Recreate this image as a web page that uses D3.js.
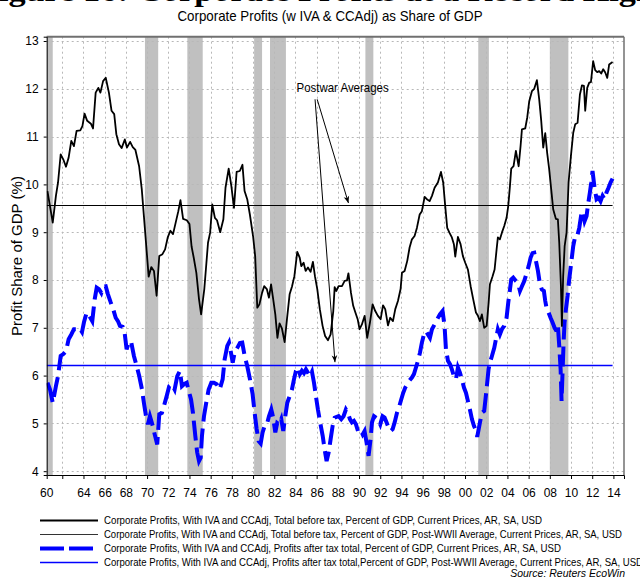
<!DOCTYPE html>
<html>
<head>
<meta charset="UTF-8" />
<script src="https://cdn.jsdelivr.net/npm/d3@7"></script>
<style>
*{margin:0; padding:0;}
body{background:#ffffff;}
.narrow{font-family:"Liberation Sans Narrow","Arial Narrow","Liberation Sans",Arial,sans-serif;}
</style>
</head>
<body>
<div id="chart"></div>
<script>
// before tax profits, % of GDP (year, value)
var beforeTax = [
[1960.6,9.86],[1961.1,9.20],[1961.4,9.76],[1961.6,10.04],[1961.85,10.63],[1962.1,10.52],[1962.35,10.37],[1962.6,10.56],
[1962.85,10.91],[1963.1,10.80],[1963.35,11.12],[1963.7,11.13],[1963.9,11.22],[1964.1,11.48],[1964.35,11.33],[1964.7,11.27],
[1964.9,11.17],[1965.15,11.92],[1965.4,12.02],[1965.6,11.92],[1965.85,12.16],[1966.1,12.23],[1966.4,11.92],[1966.65,11.54],
[1966.9,11.47],[1967.1,11.05],[1967.35,10.84],[1967.6,10.76],[1967.9,10.94],[1968.1,10.77],[1968.4,10.89],[1968.65,10.78],
[1968.9,10.72],[1969.25,10.38],[1969.5,9.90],[1969.7,9.34],[1969.9,8.78],[1970.15,8.07],[1970.4,8.27],[1970.65,8.19],
[1970.9,7.67],[1971.15,8.50],[1971.45,8.54],[1971.7,8.64],[1971.95,8.89],[1972.2,9.03],[1972.45,8.96],[1972.7,9.20],
[1972.95,9.44],[1973.15,9.67],[1973.4,9.28],[1973.75,9.25],[1974.0,9.17],[1974.2,8.70],[1974.4,8.47],[1974.65,8.15],
[1974.9,7.60],[1975.1,7.28],[1975.4,7.81],[1975.6,8.36],[1975.75,8.78],[1975.95,8.99],[1976.15,9.58],[1976.4,9.30],
[1976.6,9.25],[1976.9,9.00],[1977.2,9.27],[1977.4,9.93],[1977.7,10.33],[1977.95,9.97],[1978.2,9.51],[1978.45,10.26],
[1978.75,10.28],[1979.0,10.41],[1979.2,9.86],[1979.45,9.69],[1979.7,9.37],[1980.0,8.92],[1980.2,8.50],[1980.4,7.42],
[1980.6,7.49],[1980.85,7.73],[1981.05,7.87],[1981.3,7.81],[1981.5,7.63],[1981.7,7.91],[1981.9,7.60],[1982.1,7.28],
[1982.3,6.79],[1982.5,7.09],[1982.73,6.98],[1982.98,6.70],[1983.2,7.18],[1983.45,7.70],[1983.67,7.86],[1983.9,8.08],
[1984.17,8.59],[1984.4,8.47],[1984.55,8.29],[1984.77,8.36],[1984.96,8.19],[1985.18,8.26],[1985.43,8.17],[1985.65,8.38],
[1985.84,8.08],[1986.06,7.81],[1986.3,7.39],[1986.56,7.04],[1986.8,6.83],[1987.07,6.74],[1987.32,6.86],[1987.57,7.35],
[1987.7,7.85],[1987.85,7.77],[1988.07,7.87],[1988.39,7.87],[1988.64,7.98],[1988.86,7.99],[1989.0,8.14],[1989.24,7.73],
[1989.45,7.46],[1989.64,7.33],[1989.87,7.18],[1990.05,6.97],[1990.27,7.07],[1990.53,7.25],[1990.77,6.79],[1991.03,7.11],
[1991.28,7.49],[1991.53,7.35],[1991.78,7.25],[1992.04,7.18],[1992.26,7.47],[1992.47,7.39],[1992.73,7.05],[1992.94,7.21],
[1993.2,7.14],[1993.42,7.39],[1993.67,7.56],[1993.92,7.81],[1994.05,8.15],[1994.3,8.19],[1994.55,8.40],[1994.77,8.68],
[1994.99,8.85],[1995.24,8.92],[1995.46,9.09],[1995.72,9.37],[1995.93,9.44],[1996.19,9.74],[1996.4,9.69],[1996.66,9.65],
[1996.88,9.76],[1997.13,9.93],[1997.44,10.04],[1997.73,10.26],[1997.94,10.04],[1998.13,9.55],[1998.32,9.09],[1998.55,8.98],
[1998.76,8.89],[1998.95,8.75],[1999.08,8.49],[1999.33,8.90],[1999.58,8.75],[1999.8,8.50],[2000.02,8.36],[2000.27,8.22],
[2000.53,7.87],[2000.77,7.60],[2001.03,7.32],[2001.22,7.25],[2001.41,7.14],[2001.59,7.28],[2001.81,7.00],[2002.04,7.04],
[2002.23,7.53],[2002.35,7.91],[2002.6,8.08],[2002.79,8.22],[2002.98,8.64],[2003.1,8.89],[2003.29,8.85],[2003.48,8.99],
[2003.7,9.13],[2003.92,9.30],[2004.08,9.55],[2004.24,9.97],[2004.36,10.33],[2004.58,10.38],[2004.8,10.70],[2005.06,10.38],
[2005.24,10.80],[2005.37,11.15],[2005.68,11.17],[2005.87,11.40],[2006.06,11.74],[2006.31,11.95],[2006.53,12.00],[2006.78,12.18],
[2007.0,11.78],[2007.19,11.33],[2007.38,10.77],[2007.57,11.07],[2007.75,10.66],[2007.94,10.32],[2008.13,9.90],[2008.32,9.48],
[2008.57,9.28],[2008.76,9.27],[2008.89,8.78],[2009.05,7.87],[2009.14,7.04],[2009.26,8.08],[2009.4,8.71],[2009.58,8.99],
[2009.77,10.04],[2009.99,10.59],[2010.21,11.08],[2010.4,11.26],[2010.62,11.29],[2010.84,11.88],[2011.03,12.07],[2011.22,12.06],
[2011.34,11.54],[2011.53,12.02],[2011.72,12.13],[2011.88,12.14],[2012.09,12.58],[2012.28,12.39],[2012.47,12.35],[2012.66,12.37],
[2012.85,12.32],[2013.04,12.41],[2013.23,12.34],[2013.42,12.23],[2013.6,12.51],[2013.92,12.56]
];
// after tax profits, % of GDP (year, value)
var afterTax = [
[1960.6,5.85],[1960.85,5.70],[1961.1,5.43],[1961.4,5.78],[1961.6,5.99],[1961.85,6.41],[1962.1,6.45],[1962.35,6.51],
[1962.6,6.76],[1962.85,6.86],[1963.1,6.97],[1963.35,6.97],[1963.6,7.00],[1963.86,6.91],[1964.05,7.12],[1964.3,7.32],
[1964.55,7.25],[1964.83,7.14],[1965.06,7.60],[1965.25,7.84],[1965.46,7.81],[1965.68,7.73],[1965.87,7.86],[1966.1,7.87],
[1966.31,7.70],[1966.57,7.53],[1966.8,7.39],[1967.04,7.21],[1967.25,7.14],[1967.44,7.04],[1967.7,7.02],[1967.88,6.90],
[1968.07,6.55],[1968.32,6.72],[1968.51,6.69],[1968.76,6.41],[1969.02,6.20],[1969.26,5.99],[1969.52,5.71],[1969.7,5.43],
[1969.9,5.15],[1970.08,4.98],[1970.27,5.15],[1970.53,4.95],[1970.72,4.77],[1970.96,4.56],[1971.15,5.19],[1971.4,5.22],
[1971.59,5.36],[1971.85,5.57],[1972.09,5.78],[1972.35,5.82],[1972.6,5.71],[1972.85,5.99],[1973.1,6.10],[1973.29,5.78],
[1973.48,5.82],[1973.74,5.85],[1973.98,5.64],[1974.15,5.50],[1974.33,5.22],[1974.55,4.74],[1974.73,4.39],[1974.9,4.21],
[1975.06,4.28],[1975.18,4.74],[1975.37,5.15],[1975.58,5.43],[1975.81,5.71],[1976.06,5.85],[1976.31,5.85],[1976.57,5.82],
[1976.85,5.71],[1977.13,5.92],[1977.32,6.34],[1977.57,6.62],[1977.73,6.69],[1977.89,6.51],[1978.08,6.27],[1978.26,6.48],
[1978.51,6.58],[1978.76,6.68],[1978.98,6.69],[1979.21,6.41],[1979.45,6.20],[1979.71,5.92],[1979.96,5.61],[1980.15,5.22],
[1980.34,4.88],[1980.53,4.63],[1980.72,4.58],[1980.9,4.81],[1981.1,4.95],[1981.31,4.98],[1981.5,5.15],[1981.72,5.29],
[1981.9,5.12],[1982.1,4.81],[1982.28,5.01],[1982.47,4.98],[1982.66,5.09],[1982.85,4.84],[1983.04,5.15],[1983.23,5.43],
[1983.45,5.57],[1983.67,5.71],[1983.86,5.92],[1984.05,6.10],[1984.24,6.17],[1984.42,6.03],[1984.61,6.10],[1984.8,6.05],
[1984.99,6.13],[1985.18,6.06],[1985.37,5.99],[1985.56,6.08],[1985.75,5.85],[1985.93,5.57],[1986.12,5.29],[1986.34,5.01],
[1986.57,4.74],[1986.75,4.46],[1986.94,4.21],[1987.13,4.39],[1987.32,4.67],[1987.51,4.95],[1987.7,5.12],[1988.07,5.15],
[1988.32,5.09],[1988.54,5.15],[1988.76,5.29],[1988.95,5.22],[1989.14,5.09],[1989.33,5.02],[1989.52,5.05],[1989.71,4.98],
[1989.9,4.84],[1990.12,4.88],[1990.34,4.77],[1990.52,4.84],[1990.71,4.60],[1990.9,4.32],[1991.09,4.67],[1991.22,5.02],
[1991.41,5.15],[1991.59,5.12],[1991.78,5.09],[1992.0,4.98],[1992.22,5.15],[1992.41,5.12],[1992.6,5.02],[1992.79,4.91],
[1992.98,4.84],[1993.17,4.88],[1993.36,5.02],[1993.58,5.22],[1993.8,5.36],[1993.98,5.50],[1994.17,5.64],[1994.36,5.75],
[1994.55,5.82],[1994.74,5.89],[1994.99,5.96],[1995.18,6.03],[1995.37,6.17],[1995.56,6.31],[1995.75,6.48],[1995.93,6.69],
[1996.12,6.86],[1996.31,6.93],[1996.5,6.86],[1996.69,6.79],[1996.88,6.97],[1997.13,7.07],[1997.38,7.18],[1997.63,7.28],
[1997.88,7.35],[1998.07,7.04],[1998.2,6.55],[1998.39,6.31],[1998.58,6.24],[1998.76,6.13],[1998.95,5.99],[1999.14,5.92],
[1999.33,6.17],[1999.52,6.06],[1999.71,5.92],[1999.9,5.75],[2000.09,5.64],[2000.27,5.47],[2000.46,5.29],[2000.65,5.09],
[2000.84,4.95],[2001.03,4.85],[2001.15,4.72],[2001.41,5.02],[2001.59,5.22],[2001.81,5.26],[2002.03,5.71],[2002.22,6.13],
[2002.35,6.27],[2002.54,6.41],[2002.76,6.58],[2002.98,6.83],[2003.1,6.97],[2003.29,6.86],[2003.48,6.97],[2003.7,7.04],
[2003.92,7.21],[2004.08,7.53],[2004.24,7.80],[2004.36,8.01],[2004.55,8.05],[2004.8,7.98],[2004.99,7.94],[2005.18,7.77],
[2005.37,7.87],[2005.59,7.98],[2005.81,8.14],[2006.0,8.29],[2006.19,8.47],[2006.37,8.56],[2006.53,8.57],[2006.69,8.40],
[2006.88,8.19],[2007.07,7.91],[2007.25,7.80],[2007.44,7.77],[2007.57,7.56],[2007.69,7.42],[2007.88,7.32],[2008.07,7.21],
[2008.26,7.11],[2008.45,7.00],[2008.64,6.93],[2008.76,7.04],[2008.89,6.62],[2009.02,6.13],[2009.11,5.47],[2009.2,6.06],
[2009.3,6.69],[2009.39,7.11],[2009.52,7.39],[2009.68,7.67],[2009.83,8.01],[2010.02,8.36],[2010.21,8.71],[2010.4,8.92],
[2010.59,8.92],[2010.78,9.09],[2010.97,9.37],[2011.09,9.44],[2011.28,9.23],[2011.47,9.34],[2011.59,9.55],[2011.78,9.83],
[2011.91,10.04],[2012.03,10.28],[2012.22,9.93],[2012.41,9.69],[2012.6,9.72],[2012.79,9.65],[2012.98,9.76],[2013.17,9.69],
[2013.35,9.83],[2013.54,9.93],[2013.73,10.04],[2013.92,10.12]
];
var beforeTaxAvg = 9.57;
var afterTaxAvg = 6.23;
var recessions = [[1960.3,1961.1],[1969.8,1971.05],[1973.8,1975.25],[1980.1,1980.85],[1981.6,1983.1],[1990.6,1991.35],[2001.25,2002.25],[2008.0,2009.75]];
var yTicks = [4,5,6,7,8,9,10,11,12,13];
var xTicks = d3.range(1962, 2015, 2);
var legendLabels = [
"Corporate Profits, With IVA and CCAdj, Total before tax, Percent of GDP, Current Prices, AR, SA, USD",
"Corporate Profits, With IVA and CCAdj, Total before tax, Percent of GDP, Post-WWII Average, Current Prices, AR, SA, USD",
"Corporate Profits, With IVA and CCAdj, Profits after tax total, Percent of GDP, Current Prices, AR, SA, USD",
"Corporate Profits, With IVA and CCAdj, Profits after tax total,Percent of GDP, Post-WWII Average, Current Prices, AR, SA, USD"
];

var width = 640, height = 578;
var svg = d3.select("#chart").append("svg")
	.attr("width", width)
	.attr("height", height)
	.style("display","block");

var x = d3.scaleLinear().domain([1960.53, 2015.0]).range([46.7, 624]);
var y = d3.scaleLinear().domain([3.92, 13.09]).range([475, 36.7]);
var x0 = x.range()[0], x1 = x.range()[1], yb = y.range()[0], yt = y.range()[1];

// cut off document heading at the very top
svg.append("text")
	.attr("x", -22).attr("y", 1)
	.attr("textLength", 677).attr("lengthAdjust","spacingAndGlyphs")
	.style("font-family","'Liberation Serif','Times New Roman',serif")
	.style("font-weight","bold").style("font-size","30px")
	.text("Figure 16: Corporate Profits at a Record High");

svg.append("text").attr("class","narrow")
	.attr("x", 330).attr("y", 21)
	.attr("text-anchor","middle")
	.attr("textLength", 305).attr("lengthAdjust","spacingAndGlyphs")
	.style("font-size","15px")
	.text("Corporate Profits (w IVA & CCAdj) as Share of GDP");

svg.append("clipPath").attr("id","plotclip")
	.append("rect").attr("x", x0).attr("y", yt).attr("width", x1-x0).attr("height", yb-yt);

var plot = svg.append("g").attr("clip-path","url(#plotclip)");

// recessions
plot.selectAll("rect.rec").data(recessions).enter().append("rect")
	.attr("class","rec")
	.attr("x", function(d){return x(d[0]);})
	.attr("width", function(d){return x(d[1])-x(d[0]);})
	.attr("y", yt).attr("height", yb-yt)
	.attr("fill","#c0c0c0");

// grid
plot.selectAll("line.vg").data(xTicks).enter().append("line")
	.attr("x1", function(d){return Math.round(x(d))+0.5;}).attr("x2", function(d){return Math.round(x(d))+0.5;})
	.attr("y1", yt).attr("y2", yb)
	.style("stroke","#b8b8b8").style("stroke-dasharray","2,3");
plot.selectAll("line.hg").data(yTicks).enter().append("line")
	.attr("x1", x0).attr("x2", x1)
	.attr("y1", function(d){return Math.round(y(d))+0.5;}).attr("y2", function(d){return Math.round(y(d))+0.5;})
	.style("stroke","#b8b8b8").style("stroke-dasharray","2,3");

// averages
var tEnd = beforeTax[beforeTax.length-1][0];
plot.append("line").attr("x1", x0).attr("x2", x(tEnd))
	.attr("y1", Math.round(y(beforeTaxAvg))+0.5).attr("y2", Math.round(y(beforeTaxAvg))+0.5)
	.style("stroke","#000").style("stroke-width",1);
plot.append("line").attr("x1", x0).attr("x2", x(tEnd))
	.attr("y1", Math.round(y(afterTaxAvg))+0.5).attr("y2", Math.round(y(afterTaxAvg))+0.5)
	.style("stroke","#0000ff").style("stroke-width",1.3);

var line = d3.line().x(function(d){return x(d[0]);}).y(function(d){return y(d[1]);});

plot.append("path").datum(afterTax).attr("d", line)
	.attr("fill","none").style("stroke","#0000ff").style("stroke-width",4)
	.style("stroke-dasharray","20,7");
plot.append("path").datum(beforeTax).attr("d", line)
	.attr("fill","none").style("stroke","#000").style("stroke-width",1.8)
	.style("stroke-linejoin","round");

// borders
svg.append("line").attr("x1", x0).attr("x2", x1).attr("y1", yt).attr("y2", yt)
	.style("stroke","#707070").style("stroke-width",2);
svg.append("line").attr("x1", x1).attr("x2", x1).attr("y1", yt).attr("y2", yb)
	.style("stroke","#707070").style("stroke-width",1.5);

// axes
var xAxis = svg.append("g").attr("transform","translate(0,"+yb+")")
	.call(d3.axisBottom(x).tickValues(xTicks).tickSize(4).tickPadding(9)
		.tickFormat(function(d){ return d==1962 ? "" : d3.format("02d")(d%100); }));
xAxis.append("text").attr("x", x0).attr("y", 13).attr("dy","0.71em")
	.attr("text-anchor","middle").attr("fill","#000").text("60");
xAxis.selectAll("text").attr("class","narrow").style("font-size","12px");
xAxis.select(".domain").style("stroke","#000");

var yAxis = svg.append("g").attr("transform","translate("+x0+",0)")
	.call(d3.axisLeft(y).tickValues(yTicks).tickSize(3).tickPadding(5));
yAxis.selectAll("text").attr("class","narrow").style("font-size","12px");
yAxis.select(".domain").style("stroke","#000");

svg.append("text").attr("class","narrow")
	.attr("transform","translate(22,"+y(8.5)+") rotate(-90)")
	.attr("text-anchor","middle")
	.attr("textLength",160).attr("lengthAdjust","spacingAndGlyphs")
	.style("font-size","14px")
	.text("Profit Share of GDP (%)");

// annotation
svg.append("defs").append("marker").attr("id","arr")
	.attr("viewBox","0 0 10 10").attr("refX",10).attr("refY",5)
	.attr("markerWidth",7).attr("markerHeight",7).attr("orient","auto")
	.append("path").attr("d","M0,1 L10,5 L0,9 L3,5 z").attr("fill","#000");
svg.append("text").attr("class","narrow")
	.attr("x", x(1988.45)).attr("y", y(11.93))
	.attr("text-anchor","middle")
	.attr("textLength",92).attr("lengthAdjust","spacingAndGlyphs")
	.style("font-size","13px")
	.text("Postwar Averages");
var arrows = [[1986.05, 11.78, 1989.0, beforeTaxAvg+0.04], [1985.85, 11.78, 1987.73, afterTaxAvg+0.05]];
svg.selectAll("line.arrow").data(arrows).enter().append("line")
	.attr("x1", function(d){return x(d[0]);}).attr("y1", function(d){return y(d[1]);})
	.attr("x2", function(d){return x(d[2]);}).attr("y2", function(d){return y(d[3]);})
	.style("stroke","#000").style("stroke-width",1)
	.attr("marker-end","url(#arr)");

// legend
var legY = [520, 534, 548, 562];
var legLen = [438, 518, 457, 539];
var legStyles = [
	{c:"#000", w:2, d:null},
	{c:"#333", w:1, d:null},
	{c:"#0000ff", w:4, d:"24,5"},
	{c:"#0000ff", w:1.3, d:null}
];
var leg = svg.append("g");
legendLabels.forEach(function(t, i){
	var s = legStyles[i];
	leg.append("line").attr("x1",40).attr("x2",98).attr("y1",legY[i]+0.5).attr("y2",legY[i]+0.5)
		.style("stroke",s.c).style("stroke-width",s.w).style("stroke-dasharray",s.d);
	leg.append("text").attr("class","narrow")
		.attr("x",104).attr("y",legY[i]+4)
		.attr("textLength",legLen[i]).attr("lengthAdjust","spacingAndGlyphs")
		.style("font-size","11px")
		.text(t);
});
svg.append("text").attr("class","narrow")
	.attr("x",625).attr("y",577)
	.attr("text-anchor","end")
	.style("font-size","10.5px").style("font-style","italic")
	.text("Source: Reuters EcoWin");
</script>
</body>
</html>
